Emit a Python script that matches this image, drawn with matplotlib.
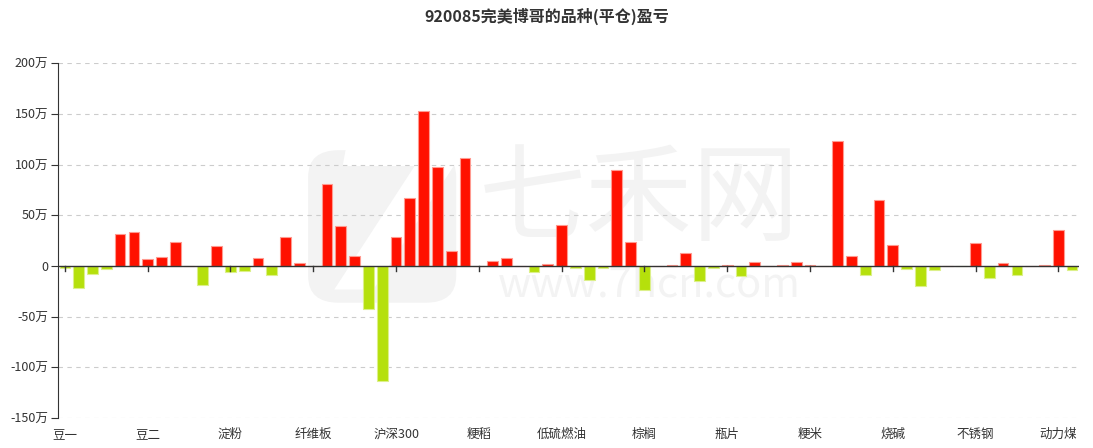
import matplotlib
matplotlib.use('Agg')
import matplotlib.pyplot as plt
from matplotlib.patches import FancyBboxPatch
import numpy as np

plt.rcParams['font.family'] = ['Noto Sans CJK SC', 'DejaVu Sans']

title = '920085完美博哥的品种(平仓)盈亏'

names = ['豆一', '铁矿石', '焦炭', '螺纹钢', '玉米', '豆粕',
         '豆二', '豆油', '塑料', 'PVC', '聚丙烯', '鸡蛋',
         '淀粉', '焦煤', '乙二醇', '苯乙烯', '液化气', '生猪',
         '纤维板', '胶合板', '上证50', '中证500', '中证1000', '十年国债',
         '沪深300', '五年国债', '二年国债', '沪铜', '沪铝', '沪锌',
         '粳稻', '沪铅', '沪镍', '沪锡', '沪金', '沪银',
         '低硫燃油', '燃油', '沥青', '橡胶', '纸浆', '热卷',
         '棕榈', '线材', '原油', '20号胶', '国际铜', '集运指数',
         '瓶片', '白糖', '棉花', '菜油', '菜粕', '甲醇',
         '粳米', 'PTA', '玻璃', '纯碱', '尿素', '硅铁',
         '烧碱', '锰硅', '苹果', '红枣', '花生', '短纤',
         '不锈钢', '菜籽', '棉纱', '早籼稻', '晚籼稻', '强麦',
         '动力煤', '普麦']

# profit / loss, unit: 万
pnl = [-1.6, -21.5, -8.3, -3.3, 31.8, 33.4,
       7.0, 8.6, 23.5, 0.0, -18.9, 19.5,
       -6.0, -5.3, 8.0, -9.0, 28.5, 2.6,
       0.0, 81.0, 39.7, 10.3, -42.4, -113.9,
       28.5, 66.9, 152.6, 98.0, 15.2, 106.6,
       0.0, 5.3, 7.6, 0.0, -6.3, 2.3,
       40.0, -2.3, -14.2, -2.3, 94.7, 23.8,
       -23.5, 0.0, 1.3, 12.6, -14.6, -2.0,
       1.0, -9.6, 3.6, 0.3, 0.5, 4.3,
       1.3, 0.0, 123.0, 10.3, -8.6, 65.0,
       21.2, -2.6, -20.2, -4.3, 0.0, -0.5,
       22.2, -11.6, 2.6, -8.6, 0.0, 0.5,
       35.8, -4.3]

pnl = np.array(pnl)
x = np.arange(len(names))
colors = np.where(pnl >= 0, '#ff1100', '#b5e00c')
edges = np.where(pnl >= 0, '#ff9a90', '#dcf08a')

fig = plt.figure(figsize=(10.93, 4.48), dpi=100)
ax = fig.add_axes([58 / 1093, 1 - 418 / 448, 1021 / 1093, (418 - 63.3) / 448])

# watermark (logo + site name)
logo = FancyBboxPatch((0.245, 0.325), 0.145, 0.43,
                      boxstyle='round,pad=0,rounding_size=0.03',
                      transform=ax.transAxes, facecolor='#f3f3f3',
                      edgecolor='none', zorder=0, mutation_aspect=2.5)
ax.add_patch(logo)
ax.text(0.325, 0.53, '7', transform=ax.transAxes, fontsize=150,
        color='white', ha='center', va='center', fontweight='bold',
        style='italic', family='DejaVu Sans', zorder=0)
ax.text(0.569, 0.61, '七禾网', transform=ax.transAxes, fontsize=77,
        color='#f3f3f3', ha='center', va='center', zorder=0)
ax.text(0.579, 0.375, 'www.7hcn.com', transform=ax.transAxes, fontsize=30,
        color='#f3f3f3', ha='center', va='center', zorder=0)

ax.bar(x, pnl, width=0.78, color=colors, edgecolor=edges, linewidth=0.8,
       zorder=3)

ax.set_xlim(-0.5, len(names) - 0.5)
ax.set_ylim(-150, 200)

yt = np.arange(-150, 201, 50)
ax.set_yticks(yt)
ax.set_yticklabels([('%d万' % v) if v != 0 else '0' for v in yt],
                   fontsize=9, color='#333333')
for v in yt:
    if v != 0:
        ax.axhline(v, color='#cccccc', lw=0.8, ls=(0, (4, 4)), zorder=1)

ax.axhline(0, color='#333333', lw=1, zorder=4)
for i in x[::6]:
    ax.plot([i, i], [0, -5], color='#333333', lw=1, zorder=4,
            clip_on=False)

ax.set_xticks(x[::6])
ax.set_xticklabels(names[::6], fontsize=9, color='#333333')
ax.tick_params(axis='x', length=0, pad=7)
ax.tick_params(axis='y', length=5, color='#333333', pad=2)

for s in ['top', 'right', 'bottom']:
    ax.spines[s].set_visible(False)
ax.spines['left'].set_color('#333333')

fig.text(0.5, 1 - 16 / 448, title, ha='center', va='center', fontsize=11.5,
         fontweight='bold', color='#333333')

fig.savefig('out.png', dpi=100)
